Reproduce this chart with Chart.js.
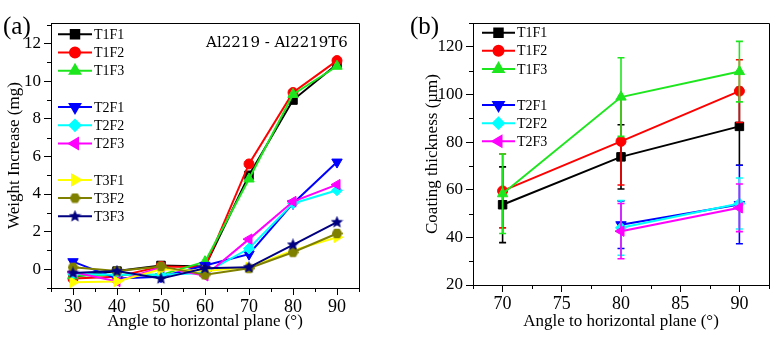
<!DOCTYPE html>
<html lang="en">
<head>
<meta charset="UTF-8">
<title>Weight increase and coating thickness vs angle</title>
<script src="https://cdn.jsdelivr.net/npm/chart.js@4.4.1/dist/chart.umd.min.js"></script>
<style>
  body { margin: 0; background: #fff; }
  #wrap { position: relative; width: 777px; height: 344px; }
  .panel { position: absolute; top: 0; height: 344px; }
  #pa { left: 0; width: 390px; }
  #pb { left: 390px; width: 387px; }
</style>
</head>
<body>
<div id="wrap">
  <div class="panel" id="pa"><canvas id="chartA"></canvas></div>
  <div class="panel" id="pb"><canvas id="chartB"></canvas></div>
</div>
<script>
// ---------- panel (a): weight increase (mg) ----------
const anglesA = [30, 40, 50, 60, 70, 80, 90];
const t1f1 = [-0.4, -0.1, 0.2, 0.15, 5.0, 9.0, 10.9];
const t1f2 = [-0.5, -0.4, 0.15, 0.1, 5.6, 9.4, 11.1];
const t1f3 = [-0.35, -0.3, -0.3, 0.4, 4.8, 9.3, 10.8];
const t2f1 = [0.4, -0.5, -0.4, 0.2, 0.8, 3.5, 5.7];
const t2f2 = [-0.25, -0.3, -0.3, -0.2, 1.1, 3.5, 4.2];
const t2f3 = [-0.15, -0.65, 0.1, -0.35, 1.6, 3.6, 4.5];
const t3f1 = [-0.7, -0.65, 0.0, -0.1, 0.1, 1.0, 1.7];
const t3f2 = [0.1, -0.1, 0.15, -0.3, 0.05, 0.9, 1.9];
const t3f3 = [-0.2, -0.1, -0.5, 0.05, 0.1, 1.3, 2.5];
const namesA = ['T1F1', 'T1F2', 'T1F3', 'T2F1', 'T2F2', 'T2F3', 'T3F1', 'T3F2', 'T3F3'];
const valuesA = [t1f1, t1f2, t1f3, t2f1, t2f2, t2f3, t3f1, t3f2, t3f3];
const yTicksA = [0, 2, 4, 6, 8, 10, 12];
const xTicksA = [30, 40, 50, 60, 70, 80, 90];

// ---------- panel (b): coating thickness (um) with error bars ----------
const anglesB1 = [70, 80, 90];
const anglesB2 = [80, 90];
const thickT1F1 = [53.7, 73.8, 86.6];
const thickT1F2 = [59.5, 80.3, 101.4];
const thickT1F3 = [58.3, 98.9, 109.6];
const thickT2F1 = [45.3, 53.8];
const thickT2F2 = [44.0, 54.2];
const thickT2F3 = [42.6, 52.4];
const errT1F1 = [15.9, 13.5, 16.3];
const errT1F2 = [15.5, 18.3, 13.2];
const errT1F3 = [16.7, 16.5, 12.7];
const errT2F1 = [10.0, 16.5];
const errT2F2 = [11.5, 10.7];
const errT2F3 = [11.6, 10.0];
const yTicksB = [20, 40, 60, 80, 100, 120];
const xTicksB = [70, 75, 80, 85, 90];

// ---------- styles ----------
const colors = ['#000000', '#ff0000', '#1ee61e', '#0000ff', '#00ffff', '#ff00ff', '#ffff00', '#808000', '#000080'];

function makeShape(kind, color, size) {
    const c = document.createElement('canvas');
    c.width = size; c.height = size;
    const g = c.getContext('2d');
    const cx = size / 2, cy = size / 2, r = size / 2;
    g.fillStyle = color;
    g.beginPath();
    if (kind === 'hex') {
        for (let i = 0; i < 6; i++) {
            const a = i * Math.PI / 3;
            g.lineTo(cx + r * Math.cos(a), cy + r * Math.sin(a));
        }
    } else {
        for (let i = 0; i < 10; i++) {
            const a = -Math.PI / 2 + i * Math.PI / 5;
            const rr = i % 2 === 0 ? r : r * 0.45;
            g.lineTo(cx + rr * Math.cos(a), cy + rr * Math.sin(a));
        }
    }
    g.closePath();
    g.fill();
    return c;
}

const pointStyles = ['rect', 'circle', 'triangle', 'triangle', 'rectRot', 'triangle', 'triangle',
    makeShape('hex', colors[7], 11), makeShape('star', colors[8], 13)];
const pointRot = [0, 0, 0, 180, 0, 270, 90, 0, 0];
const pointRad = [6, 5, 6, 6, 5.5, 6, 6, 5, 5];

const serif = '"Liberation Serif", "Times New Roman", serif';

// frame, minor ticks, legend and text labels drawn on top of the chart
const decorPlugin = {
    id: 'decor',
    afterDraw(chart, args, opts) {
        const ctx = chart.ctx;
        const a = chart.chartArea;
        const xs = chart.scales.x, ys = chart.scales.y;
        ctx.save();
        ctx.strokeStyle = '#000';
        ctx.lineWidth = 1;
        ctx.beginPath();
        ctx.moveTo(Math.round(a.left) + 0.5, Math.round(a.top) + 0.5);
        ctx.lineTo(Math.round(a.right) + 0.5, Math.round(a.top) + 0.5);
        ctx.lineTo(Math.round(a.right) + 0.5, Math.round(a.bottom) + 0.5);
        ctx.stroke();
        // minor ticks
        ctx.beginPath();
        opts.minorX.forEach(v => {
            const px = Math.round(xs.getPixelForValue(v)) + 0.5;
            ctx.moveTo(px, a.bottom); ctx.lineTo(px, a.bottom + 4);
        });
        opts.minorY.forEach(v => {
            const py = Math.round(ys.getPixelForValue(v)) + 0.5;
            ctx.moveTo(a.left, py); ctx.lineTo(a.left - 4, py);
        });
        ctx.stroke();
        // legend
        const lg = opts.legend;
        ctx.font = '14px ' + serif;
        ctx.textBaseline = 'middle';
        ctx.textAlign = 'left';
        lg.rows.forEach((idx, r) => {
            if (idx === null) return;
            const y = lg.y0 + r * lg.rowH;
            ctx.strokeStyle = colors[idx];
            ctx.lineWidth = 2;
            ctx.beginPath();
            ctx.moveTo(lg.x0, y); ctx.lineTo(lg.x0 + lg.len, y);
            ctx.stroke();
            ctx.fillStyle = colors[idx];
            ctx.strokeStyle = colors[idx];
            Chart.helpers.drawPoint(ctx, {
                pointStyle: pointStyles[idx], rotation: pointRot[idx],
                radius: pointRad[idx], borderWidth: 1
            }, lg.x0 + lg.len / 2, y);
            ctx.fillStyle = '#000';
            ctx.fillText(namesA[idx], lg.x0 + lg.len + 2, y + 1);
        });
        // texts
        opts.texts.forEach(t => {
            ctx.font = t.font;
            ctx.fillStyle = '#000';
            ctx.textAlign = t.align;
            ctx.fillText(t.text, t.x, t.y);
        });
        ctx.restore();
    }
};

// vertical error bars drawn under each dataset
const errorBarPlugin = {
    id: 'errorBars',
    beforeDatasetDraw(chart, args) {
        const ds = chart.data.datasets[args.index];
        if (!ds.errors) return;
        const ctx = chart.ctx;
        const ys = chart.scales.y;
        ctx.save();
        ctx.strokeStyle = ds.borderColor;
        ctx.lineWidth = 1.6;
        ctx.beginPath();
        args.meta.data.forEach((pt, i) => {
            const v = ds.data[i].y, e = ds.errors[i];
            const top = ys.getPixelForValue(v + e);
            const bot = ys.getPixelForValue(v - e);
            ctx.moveTo(pt.x, top); ctx.lineTo(pt.x, bot);
            ctx.moveTo(pt.x - 3.5, top); ctx.lineTo(pt.x + 3.5, top);
            ctx.moveTo(pt.x - 3.5, bot); ctx.lineTo(pt.x + 3.5, bot);
        });
        ctx.stroke();
        ctx.restore();
    }
};

function fixedScale(width, height) {
    return function (scale) {
        if (width !== null) scale.width = width;
        if (height !== null) scale.height = height;
        scale.paddingLeft = 0; scale.paddingRight = 0;
        scale.paddingTop = 0; scale.paddingBottom = 0;
    };
}

function axis(min, max, ticks, title, titlePad, fontSize, fit, tickPad) {
    return {
        type: 'linear', min: min, max: max,
        afterBuildTicks: s => { s.ticks = ticks.map(v => ({ value: v })); },
        afterFit: fit,
        ticks: { color: '#000', font: { family: serif, size: fontSize }, padding: tickPad },
        grid: { display: true, drawOnChartArea: false, drawTicks: true, tickLength: 7, tickColor: '#000', tickWidth: 1 },
        border: { display: true, color: '#000', width: 1 },
        title: { display: true, text: title, color: '#000', font: { family: serif, size: 17 }, padding: titlePad }
    };
}

function lineDataset(label, data, idx, extra) {
    return Object.assign({
        label: label,
        data: data,
        borderColor: colors[idx],
        backgroundColor: colors[idx],
        borderWidth: 2,
        pointStyle: pointStyles[idx],
        rotation: pointRot[idx],
        pointRadius: pointRad[idx],
        pointBorderWidth: 1,
        pointHoverRadius: pointRad[idx],
        tension: 0,
        order: -idx
    }, extra || {});
}

const common = {
    responsive: true,
    maintainAspectRatio: false,
    animation: false,
    events: [],
    plugins: { legend: { display: false }, tooltip: { enabled: false } }
};

// ---------- chart (a) ----------
new Chart(document.getElementById('chartA'), {
    type: 'line',
    data: {
        datasets: valuesA.map((vals, i) => lineDataset(namesA[i],
            anglesA.map((a, k) => ({ x: a, y: vals[k] })), i))
    },
    options: Object.assign({}, common, {
        layout: { padding: { left: 0, right: 31, top: 23, bottom: 0 } },
        scales: {
            x: axis(25, 95, xTicksA, 'Angle to horizontal plane (\u00b0)', { top: 0, bottom: 12 }, 18, fixedScale(null, 56), 1),
            y: axis(-1, 13.1, yTicksA, 'Weight Increase (mg)', { top: 4, bottom: 0 }, 17, fixedScale(51, null), 3)
        },
        plugins: Object.assign({}, common.plugins, {
            decor: {
                minorX: [25, 35, 45, 55, 65, 75, 85, 95],
                minorY: [-1, 1, 3, 5, 7, 9, 11, 13],
                legend: { x0: 58, y0: 34.3, rowH: 18.2, len: 34, rows: [0, 1, 2, null, 3, 4, 5, null, 6, 7, 8] },
                texts: [
                    { text: '(a)', x: 3, y: 27, font: '25px ' + serif, align: 'left' },
                    { text: 'Al2219 - Al2219T6', x: 277, y: 43, font: '15px "DejaVu Serif", serif', align: 'center' }
                ]
            }
        })
    }),
    plugins: [decorPlugin]
});

// ---------- chart (b) ----------
const bSeries = [
    [anglesB1, thickT1F1, errT1F1, 0],
    [anglesB1, thickT1F2, errT1F2, 1],
    [anglesB1, thickT1F3, errT1F3, 2],
    [anglesB2, thickT2F1, errT2F1, 3],
    [anglesB2, thickT2F2, errT2F2, 4],
    [anglesB2, thickT2F3, errT2F3, 5]
];
new Chart(document.getElementById('chartB'), {
    type: 'line',
    data: {
        datasets: bSeries.map(([xs, ys, es, idx]) => lineDataset(namesA[idx],
            xs.map((a, k) => ({ x: a, y: ys[k] })), idx, { errors: es }))
    },
    options: Object.assign({}, common, {
        layout: { padding: { left: 0, right: 8, top: 23, bottom: 0 } },
        scales: {
            x: axis(67.5, 92.5, xTicksB, 'Angle to horizontal plane (\u00b0)', { top: 0, bottom: 12 }, 18, fixedScale(null, 59), 1),
            y: axis(20, 130, yTicksB, 'Coating thickness (\u00b5m)', { top: 32, bottom: 0 }, 17, fixedScale(83, null), 3)
        },
        plugins: Object.assign({}, common.plugins, {
            decor: {
                minorX: [67.5, 72.5, 77.5, 82.5, 87.5, 92.5],
                minorY: [30, 50, 70, 90, 110, 130],
                legend: { x0: 92, y0: 32.7, rowH: 18.1, len: 33, rows: [0, 1, 2, null, 3, 4, 5] },
                texts: [
                    { text: '(b)', x: 20, y: 27, font: '25px ' + serif, align: 'left' }
                ]
            }
        })
    }),
    plugins: [decorPlugin, errorBarPlugin]
});
</script>
</body>
</html>
